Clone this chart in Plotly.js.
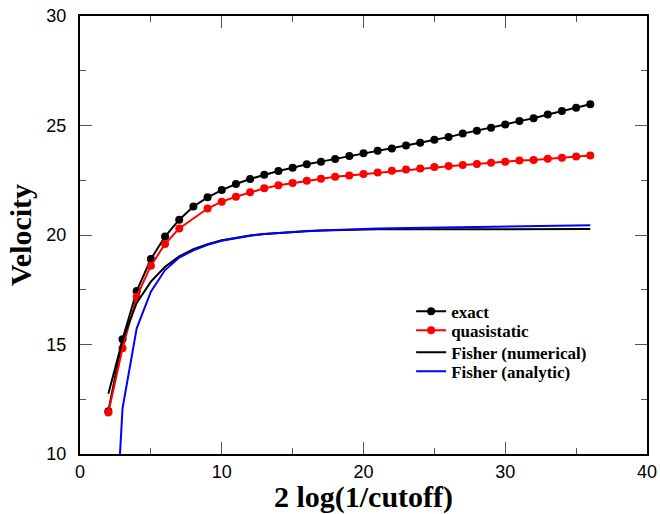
<!DOCTYPE html>
<html>
<head>
<meta charset="utf-8">
<script src="https://cdn.plot.ly/plotly-3.0.1.min.js"></script>
<style>html,body{margin:0;padding:0;background:#fff;}#chart{width:660px;height:514px;}</style>
</head>
<body>
<div id="chart"></div>
<script>
// Data
const xExact = [2,3,4,5,6,7,8,9,10,11,12,13,14,15,16,17,18,19,20,21,22,23,24,25,26,27,28,29,30,31,32,33,34,35,36];
const exactV = [11.95,15.24,17.44,18.9,19.93,20.7,21.3,21.72,22.05,22.33,22.56,22.75,22.92,23.07,23.23,23.35,23.47,23.61,23.73,23.85,23.95,24.09,24.21,24.35,24.47,24.63,24.76,24.9,25.05,25.2,25.33,25.5,25.66,25.81,25.97];

const xQuasi = [2,3,4,5,6,7,9,10,11,12,13,14,15,16,17,18,19,20,21,22,23,24,25,26,27,28,29,30,31,32,33,34,35,36];
const quasiV = [11.89,14.83,17.18,18.6,19.59,20.3,21.21,21.52,21.75,21.95,22.13,22.27,22.37,22.48,22.57,22.66,22.72,22.78,22.85,22.93,22.99,23.04,23.1,23.15,23.2,23.24,23.3,23.35,23.4,23.43,23.48,23.53,23.58,23.63];

const xFisher = [2,3,4,5,6,7,8,9,10,11,12,13,14,15,16,17,18,19,20,21,22,23,24,25,26,27,28,29,30,31,32,33,34,35,36];
const fisherNum = [12.75,15.2,16.9,17.87,18.55,19.02,19.35,19.58,19.76,19.88,19.98,20.05,20.1,20.14,20.17,20.2,20.22,20.24,20.25,20.26,20.26,20.26,20.26,20.26,20.27,20.27,20.27,20.27,20.27,20.27,20.27,20.27,20.27,20.27,20.27];
const fisherAna = [0.5,12.08,15.74,17.41,18.4,18.97,19.3,19.55,19.74,19.87,19.97,20.04,20.1,20.14,20.18,20.21,20.24,20.27,20.29,20.3,20.31,20.32,20.33,20.34,20.35,20.36,20.37,20.38,20.39,20.4,20.41,20.42,20.42,20.43,20.44];

const names = ['exact','quasistatic','Fisher (numerical)','Fisher (analytic)'];

const traces = [
  {x:xExact, y:exactV, name:names[0], legend:'legend', mode:'lines+markers', line:{color:'#000000', width:2}, marker:{color:'#000000', size:8}},
  {x:xQuasi, y:quasiV, name:names[1], legend:'legend2', mode:'lines+markers', line:{color:'#ff0000', width:2}, marker:{color:'#ff0000', size:8}},
  {x:xFisher, y:fisherNum, name:names[2], legend:'legend3', mode:'lines', line:{color:'#000000', width:2}},
  {x:xFisher, y:fisherAna, name:names[3], legend:'legend4', mode:'lines', line:{color:'#0000ff', width:2}}
];

const tickFont = {family:'Liberation Sans, Arial, sans-serif', size:18, color:'#000'};
const titleFont = {family:'Liberation Serif, Times New Roman, serif', size:30, color:'#000', weight:700};
const legFont = {family:'Liberation Serif, Times New Roman, serif', size:17, color:'#000', weight:700};
function leg(y){ return {x:0.584, y:y, xanchor:'left', yanchor:'middle', bgcolor:'rgba(0,0,0,0)', font:legFont}; }

const layout = {
  width:660, height:514,
  margin:{l:80, r:13, t:16, b:60},
  paper_bgcolor:'#fff', plot_bgcolor:'#fff',
  showlegend:true,
  legend:leg(0.3249), legend2:leg(0.2815), legend3:leg(0.2313), legend4:leg(0.1879),
  xaxis:{range:[0,40], tickvals:[0,10,20,30,40], ticks:'inside', ticklen:12, tickwidth:1, tickcolor:'#555',
         minor:{tickvals:[5,15,25,35], ticks:'inside', ticklen:6, tickcolor:'#555', showgrid:false},
         showline:true, linecolor:'#000', linewidth:2, mirror:'allticks', showgrid:false, zeroline:false,
         tickfont:tickFont, title:{text:'2 log(1/cutoff)', font:titleFont, standoff:10}},
  yaxis:{range:[10,30], tickvals:[10,15,20,25,30], ticks:'inside', ticklen:12, tickwidth:1, tickcolor:'#555',
         minor:{tickvals:[12.5,17.5,22.5,27.5], ticks:'inside', ticklen:6, tickcolor:'#555', showgrid:false},
         showline:true, linecolor:'#000', linewidth:2, mirror:'allticks', showgrid:false, zeroline:false,
         tickfont:tickFont, ticklabelstandoff:8, title:{text:'Velocity', font:titleFont, standoff:6}}
};

Plotly.newPlot('chart', traces, layout, {displayModeBar:false, staticPlot:true});
</script>
</body>
</html>
